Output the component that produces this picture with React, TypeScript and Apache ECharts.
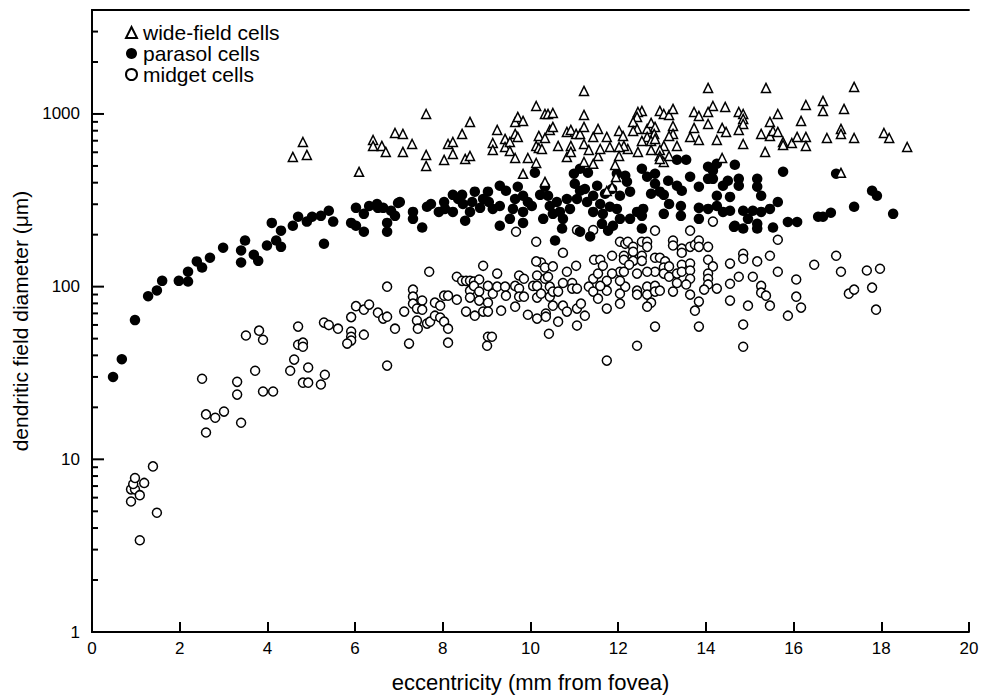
import React, { useEffect, useRef } from "react";
import * as echarts from "echarts";

const FONT = "'Liberation Sans', Arial, Helvetica, sans-serif";

const xTickValues = [0, 2, 4, 6, 8, 10, 12, 14, 16, 18, 20];
const yMajorTicks = [1, 10, 100, 1000];
const yMinorTicks = [2, 3, 4, 5, 6, 7, 8, 9, 20, 30, 40, 50, 60, 70, 80, 90, 200, 300, 400, 500, 600, 700, 800, 900, 2000, 3000];

const seriesNames = ["wide-field cells", "parasol cells", "midget cells"];

const wideFieldCells: [number, number][] = [
  [4.58, 564], [4.81, 688], [4.9, 579], [6.09, 462], [6.41, 707], [6.41, 653],
  [6.61, 653], [6.7, 603], [6.91, 776], [7.09, 766], [7.09, 603], [7.3, 670], [7.62, 1000], [7.62, 579], [7.62, 500],
  [8.03, 542], [8.12, 670], [8.23, 688], [8.23, 587], [8.44, 766], [8.51, 549], [8.62, 899], [8.62, 571],
  [9.14, 679], [9.14, 619], [9.24, 808], [9.42, 717], [9.42, 644], [9.53, 688], [9.53, 611], [9.65, 899], [9.65, 766],
  [9.65, 556], [9.71, 961], [9.71, 736], [9.83, 911], [9.94, 556], [10.13, 1112], [10.13, 653], [10.13, 520],
  [10.19, 746], [10.19, 636], [10.26, 627], [10.33, 1000], [10.33, 726], [10.4, 1000], [10.44, 808], [10.51, 1013],
  [10.51, 841], [10.63, 653], [10.83, 787], [10.83, 564], [10.92, 808], [10.92, 653], [10.92, 603], [11.04, 766],
  [11.13, 766], [11.22, 1360], [11.22, 987], [11.22, 841], [11.22, 670], [11.22, 527], [11.33, 619], [11.43, 736],
  [11.54, 819], [11.54, 571], [11.43, 514], [9.83, 450], [10.33, 404],
  [14.05, 1415], [15.37, 1415], [17.38, 1434], [14.16, 1112], [14.44, 1098], [14.75, 1027], [14.85, 1000], [14.85, 936],
  [14.85, 875], [13.73, 1027], [13.84, 974], [14.05, 1027], [14.05, 875], [13.73, 830], [13.64, 736], [13.84, 707],
  [14.25, 707], [14.37, 830], [14.46, 787], [14.75, 808], [14.85, 670], [12.95, 1041], [13.04, 1000], [13.16, 987],
  [13.25, 1069], [12.54, 1041], [12.45, 1027], [12.43, 961], [12.34, 899], [12.43, 819], [12.34, 797], [12.66, 819],
  [12.75, 887], [12.84, 841], [12.82, 766], [12.66, 736], [12.54, 698], [12.75, 698], [12.84, 717], [13.25, 852],
  [13.25, 766], [13.16, 746], [13.34, 653], [13.04, 653], [12.95, 619], [12.75, 619], [12.45, 603], [12.22, 627],
  [12.13, 653], [12.02, 797], [12.11, 746], [11.74, 736], [11.81, 644], [11.59, 627], [12.02, 644], [12.02, 571],
  [12.95, 571], [13.04, 527], [13.16, 571], [12.95, 549], [11.93, 507], [11.95, 432], [11.86, 378], [11.74, 358],
  [14.37, 556], [15.46, 899], [15.64, 1000], [16.17, 911], [16.28, 1127], [16.67, 1190], [16.67, 1041], [17.15, 1069],
  [15.26, 766], [15.46, 746], [15.53, 797], [15.64, 787], [15.76, 688], [15.76, 661], [15.96, 679], [16.08, 736],
  [16.28, 736], [16.28, 653], [15.35, 603], [16.76, 726], [17.08, 819], [17.08, 766], [17.38, 726], [18.06, 776],
  [18.18, 726], [18.59, 644], [17.08, 456],
];

const parasolCells: [number, number][] = [
  [0.48, 30], [0.68, 38], [0.98, 64], [1.28, 88], [1.48, 95], [1.6, 108], [1.98, 108], [2.19, 107], [2.19, 122],
  [2.39, 140], [2.51, 129], [2.69, 147], [2.99, 168], [3.4, 162], [3.4, 138], [3.49, 185], [3.69, 153], [3.79, 141],
  [3.99, 173], [4.1, 234], [4.2, 185], [4.31, 211], [4.31, 170], [4.58, 225], [4.7, 254], [4.9, 238], [5.02, 254],
  [5.22, 257], [5.4, 275], [5.5, 238], [5.29, 177], [5.91, 234], [6.02, 286], [6.02, 225], [6.2, 264], [6.2, 208],
  [6.32, 293], [6.5, 301], [6.52, 286], [6.64, 286], [6.73, 234], [6.73, 208], [6.82, 275], [6.91, 257], [6.98, 305],
  [7.02, 309], [7.32, 271], [7.32, 247], [7.53, 220], [7.64, 290], [7.73, 301], [7.91, 271], [8.03, 309], [8.23, 340],
  [8.23, 271], [8.44, 340], [8.46, 301], [8.51, 241], [8.67, 309], [8.73, 355], [8.85, 286], [9.03, 355], [9.05, 309],
  [9.3, 384], [9.3, 225], [9.44, 359], [9.53, 247], [9.71, 379], [9.83, 336], [9.83, 271], [10.03, 293], [10.1, 457],
  [10.33, 379], [10.4, 336], [10.6, 309], [10.72, 217], [10.56, 185], [9.3, 293], [9.6, 282], [10.29, 247], [9.83, 234],
  [10.51, 264], [8.05, 282], [8.35, 322], [8.62, 271], [8.92, 322], [9.14, 282], [9.65, 322], [9.94, 309], [10.22, 340],
  [10.44, 293],
  [10.99, 451], [11.13, 482], [11.31, 457], [11.01, 394], [11.13, 359], [11.52, 384], [10.83, 322], [11.06, 322],
  [11.29, 309], [11.43, 336], [11.59, 301], [11.43, 271], [11.65, 264], [11.81, 290], [11.97, 282], [12.04, 336],
  [12.27, 355], [12.2, 405], [11.97, 451], [11.88, 225], [11.77, 211], [11.63, 231], [11.36, 195], [11.13, 208],
  [10.74, 247], [10.67, 271], [12.27, 247], [12.04, 247], [12.43, 271], [12.54, 217], [12.16, 439], [10.9, 282],
  [11.24, 368], [11.7, 345], [11.86, 368],
  [12.54, 482], [12.66, 433], [12.84, 451], [12.84, 394], [13.14, 410], [13.34, 384], [13.45, 359], [13.64, 433],
  [13.84, 379], [14.05, 495], [14.16, 469], [14.25, 515], [14.66, 508], [14.05, 421], [14.16, 421], [14.39, 384],
  [14.5, 410], [14.75, 421], [14.75, 384], [15.17, 421], [15.17, 379], [15.26, 336], [15.76, 463], [16.97, 451],
  [17.79, 359], [17.9, 336], [14.25, 336], [14.55, 331], [13.16, 301], [13.04, 264], [13.43, 293], [13.43, 257],
  [13.84, 286], [13.84, 247], [14.05, 282], [14.25, 293], [14.39, 271], [14.55, 275], [14.85, 275], [15.07, 275],
  [15.26, 271], [15.46, 282], [15.64, 309], [14.96, 247], [15.17, 231], [15.17, 217], [14.64, 222], [14.85, 217],
  [15.53, 220], [15.87, 237], [16.08, 237], [16.56, 254], [16.67, 254], [16.85, 268], [17.38, 290], [18.27, 264],
  [12.75, 345], [13.04, 340], [12.57, 282], [12.54, 257], [13.34, 543], [13.55, 543], [12.95, 355], [14.66, 225],
];

const midgetCells: [number, number][] = [
  [0.89, 6.7], [0.98, 6.7], [0.94, 7.2], [0.98, 7.8], [1.19, 7.3], [1.09, 6.2], [0.89, 5.7], [1.39, 9.1], [1.48, 4.9], [1.09, 3.4],
  [2.51, 29.3], [2.6, 18.2], [2.81, 17.4], [3.01, 18.9], [2.6, 14.3], [3.31, 28.1], [3.31, 23.7], [3.4, 16.3],
  [3.51, 52.1], [3.81, 55.6], [3.9, 49.3], [3.72, 32.6], [3.9, 24.7], [4.13, 24.7], [4.7, 58.7], [4.7, 46.1],
  [4.81, 47.4], [4.81, 44.9], [4.61, 37.8], [4.52, 32.6], [4.93, 34.0], [4.81, 27.8], [4.93, 27.8], [5.22, 27.1],
  [5.31, 30.9], [5.29, 61.9], [5.4, 59.9], [5.61, 57.1], [5.91, 66.6], [6.02, 77.1], [6.2, 73.6], [6.32, 78.7],
  [6.52, 70.7], [6.64, 65.3], [6.73, 67.0], [6.73, 100], [5.91, 54.9], [5.91, 51.3], [5.91, 48.7], [5.82, 46.8],
  [6.2, 52.7], [6.91, 57.1], [7.12, 71.7], [7.23, 46.8], [6.73, 34.9], [7.32, 96.1], [7.32, 87.5], [7.32, 79.7],
  [7.53, 83.0], [7.41, 74.6], [7.53, 73.6], [7.41, 63.6], [7.43, 57.1], [7.64, 61.1], [7.71, 62.7], [7.69, 122],
  [7.82, 80.8], [7.94, 77.6], [7.82, 67.9], [7.94, 66.2], [8.03, 88.7], [8.12, 88.7], [8.03, 62.7], [8.12, 57.1],
  [8.12, 47.4], [8.32, 84.1], [8.32, 114], [8.44, 108], [8.53, 108], [8.62, 108], [8.71, 107], [8.83, 110],
  [8.62, 94.8], [8.62, 86.4], [8.71, 101], [8.83, 93.6], [8.83, 83.0], [8.92, 132], [9.03, 101], [9.03, 80.8],
  [9.14, 91.1], [9.24, 119], [9.24, 100], [8.53, 71.7], [8.73, 67.9], [8.92, 71.7], [9.03, 71.7], [9.33, 72.6],
  [9.03, 51.3], [9.12, 51.3], [9.42, 100], [9.44, 88.7], [9.65, 101], [9.65, 76.6], [9.74, 97.4], [9.74, 87.5],
  [9.85, 87.5], [9.74, 116], [9.85, 111], [10.06, 101], [10.15, 116], [10.15, 101], [10.15, 86.4], [9.94, 68.8],
  [10.15, 65.3], [10.24, 91.1], [10.24, 138], [10.33, 129], [10.33, 111], [10.35, 69.8], [10.35, 67.0], [10.4, 114],
  [10.44, 100], [10.44, 87.5], [10.51, 131], [10.51, 93.6], [10.51, 77.6], [10.63, 93.6], [10.63, 62.7], [10.74, 105],
  [10.74, 77.6], [10.83, 122], [10.83, 71.7], [10.95, 105], [10.95, 97.4], [11.04, 132], [11.06, 97.4], [11.06, 74.6],
  [11.06, 59.5], [11.15, 79.7], [11.24, 67.9], [10.13, 182], [10.74, 157], [10.13, 140], [10.42, 53.4], [11.45, 143],
  [11.43, 111], [11.54, 119], [11.33, 100], [11.43, 93.6], [11.54, 85.2], [11.06, 213], [11.43, 213], [9.67, 208],
  [9.01, 45.5], [11.59, 143], [11.65, 132], [12.16, 100],
  [14.16, 238], [12.84, 211], [13.64, 211], [15.64, 187], [12.04, 182], [12.16, 177], [12.22, 182], [12.34, 170],
  [12.34, 159], [12.54, 182], [12.66, 182], [12.66, 170], [13.25, 185], [13.25, 173], [13.45, 166], [13.45, 157],
  [13.64, 170], [13.75, 175], [13.84, 185], [13.84, 170], [14.05, 170], [11.86, 151], [12.13, 151], [12.13, 143],
  [12.34, 141], [12.54, 151], [12.54, 141], [12.84, 147], [12.95, 147], [13.07, 140], [12.84, 122], [12.66, 122],
  [12.43, 119], [12.25, 134], [12.04, 122], [12.13, 122], [12.04, 108], [11.86, 119], [11.74, 108], [11.74, 94.8],
  [11.59, 101], [12.04, 91.1], [12.43, 94.8], [12.43, 89.9], [12.66, 100], [12.66, 89.9], [12.84, 101], [12.84, 93.6],
  [12.95, 94.8], [12.75, 80.8], [12.66, 76.6], [12.04, 79.7], [11.74, 74.6], [13.04, 129], [13.04, 119], [13.16, 131],
  [13.16, 114], [13.34, 119], [13.34, 105], [13.45, 134], [13.45, 122], [13.64, 136], [13.64, 124], [13.64, 111],
  [13.55, 103], [13.25, 93.6], [13.64, 89.9], [13.84, 81.9], [13.75, 72.6], [14.05, 143], [14.16, 131], [14.05, 119],
  [14.05, 111], [14.05, 103], [13.96, 96.1], [14.25, 97.4], [14.55, 136], [14.55, 104], [14.55, 83.0], [14.75, 114],
  [14.85, 155], [14.85, 145], [15.07, 114], [15.17, 140], [15.26, 101], [15.26, 92.3], [15.37, 88.7], [15.46, 151],
  [15.46, 77.6], [15.64, 122], [14.96, 77.6], [14.85, 60.3], [14.85, 44.9], [13.84, 58.7], [12.84, 58.7], [12.43, 45.5],
  [11.74, 37.3], [15.87, 67.9], [16.06, 110], [16.06, 87.5], [16.17, 75.6], [16.47, 134], [16.97, 151], [17.08, 122],
  [17.26, 91.1], [17.38, 96.1], [17.67, 124], [17.97, 127], [17.79, 98.7], [17.88, 73.6],
];

const AXIS_LINE = { show: true, lineStyle: { color: "#000", width: 1.8 } };

export default function App() {
  const ref = useRef<HTMLDivElement>(null);
  useEffect(() => {
    if (!ref.current) return;
    const chart = echarts.init(ref.current, undefined, { renderer: "svg" });
    const option: any = {
      animation: false,
      grid: { left: 92, right: 15, top: 10, bottom: 65 },
      xAxis: [
        {
          type: "value", min: 0, max: 20, interval: 2, position: "bottom",
          name: "eccentricity (mm from fovea)", nameLocation: "middle", nameGap: 39,
          nameTextStyle: { fontFamily: FONT, fontSize: 22, color: "#000" },
          axisLine: AXIS_LINE,
          axisTick: { show: true, inside: true, length: 10, lineStyle: { color: "#000", width: 2 } },
          axisLabel: {
            color: "#000", fontSize: 17, fontFamily: FONT, margin: 8,
            formatter: (v: number) => (xTickValues.includes(v) ? String(v) : ""),
          },
          splitLine: { show: false },
        },
        {
          type: "value", min: 0, max: 20, position: "top",
          axisLine: AXIS_LINE, axisTick: { show: false }, axisLabel: { show: false }, splitLine: { show: false },
        },
      ],
      yAxis: [
        {
          type: "log", logBase: 10, min: 1, max: 4000, position: "left",
          name: "dendritic field diameter (μm)", nameLocation: "middle", nameGap: 58,
          nameTextStyle: { fontFamily: FONT, fontSize: 21, color: "#000" },
          axisLine: AXIS_LINE,
          axisTick: { show: false },
          axisLabel: {
            color: "#000", fontSize: 17, fontFamily: FONT, margin: 12,
            formatter: (v: number) => {
              const r = Math.round(v);
              return yMajorTicks.includes(r) && Math.abs(v - r) < 1e-6 * Math.max(1, r) ? String(r) : "";
            },
          },
          splitLine: { show: false },
        },
        {
          type: "log", logBase: 10, min: 1, max: 4000, position: "right",
          axisLine: AXIS_LINE, axisTick: { show: false }, axisLabel: { show: false }, splitLine: { show: false },
        },
      ],
      legend: {
        orient: "vertical", left: 120, top: 17,
        itemWidth: 11, itemHeight: 11, itemGap: 0,
        data: seriesNames,
        textStyle: { fontFamily: FONT, fontSize: 21, lineHeight: 21, color: "#000", padding: [0, 0, 0, 1] },
      },
      series: [
        {
          name: seriesNames[2], type: "scatter", data: midgetCells, symbol: "circle", symbolSize: 9, z: 2,
          itemStyle: { color: "#fff", borderColor: "#000", borderWidth: 1.5, opacity: 1 },
        },
        {
          name: seriesNames[1], type: "scatter", data: parasolCells, symbol: "circle", symbolSize: 10.5, z: 3,
          itemStyle: { color: "#000", opacity: 1 },
        },
        {
          name: seriesNames[0], type: "scatter", data: wideFieldCells, symbol: "triangle", symbolSize: 9, z: 4,
          itemStyle: { color: "#fff", borderColor: "#000", borderWidth: 1.5, opacity: 1 },
        },
        {
          name: "y major ticks", type: "scatter", clip: false, silent: true, z: 6,
          data: yMajorTicks.map((v) => [0, v]),
          symbol: "rect", symbolSize: [12, 2], symbolOffset: [6, 0],
          itemStyle: { color: "#000", opacity: 1 },
        },
        {
          name: "y minor ticks", type: "scatter", clip: false, silent: true, z: 6,
          data: yMinorTicks.map((v) => [0, v]),
          symbol: "rect", symbolSize: [6, 2], symbolOffset: [3, 0],
          itemStyle: { color: "#000", opacity: 1 },
        },
      ],
    };
    chart.setOption(option);
    return () => chart.dispose();
  }, []);
  return (
    <div
      ref={ref}
      style={{ position: "fixed", left: 0, top: 0, width: 984, height: 698, background: "#fff" }}
    />
  );
}
